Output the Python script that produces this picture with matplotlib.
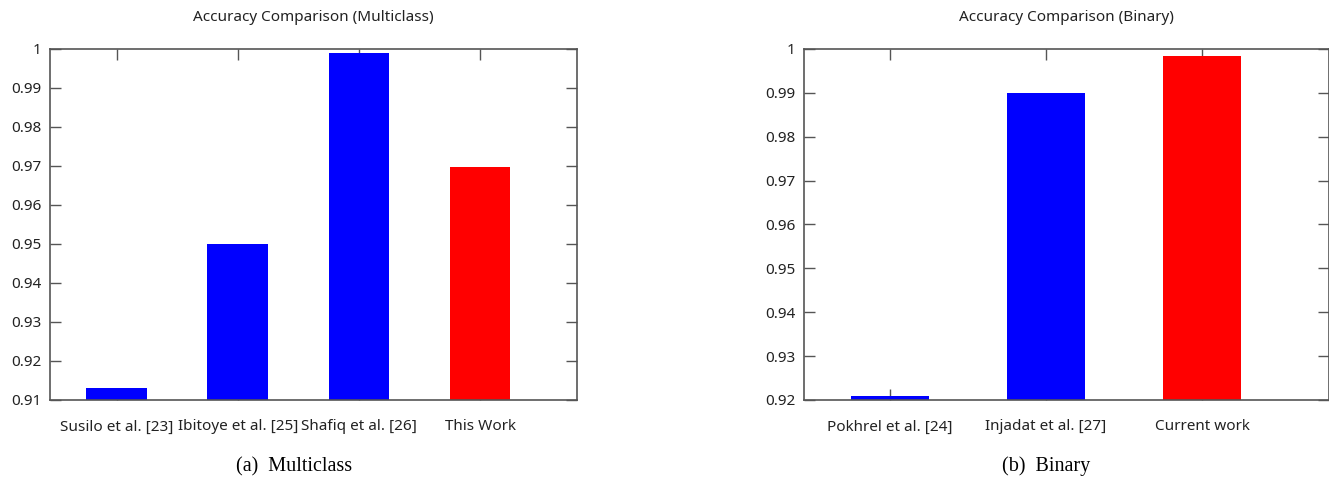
import matplotlib
matplotlib.use("Agg")
import matplotlib.pyplot as plt

multi_labels = ["Susilo et al. [23]", "Ibitoye et al. [25]", "Shafiq et al. [26]", "This Work"]
multi_values = [0.913, 0.950, 0.999, 0.9697]
multi_colors = ["#0000ff", "#0000ff", "#0000ff", "#ff0000"]

binary_labels = ["Pokhrel et al. [24]", "Injadat et al. [27]", "Current work"]
binary_values = [0.921, 0.990, 0.9985]
binary_colors = ["#0000ff", "#0000ff", "#ff0000"]

plt.rcParams["font.family"] = ["Noto Sans", "DejaVu Sans"]
AXIS_GRAY = "#555555"


def draw(ax, labels, values, colors, title, ylim, yticks, xlim):
    xs = list(range(len(labels)))
    ax.bar(xs, values, width=0.5, color=colors, bottom=0, zorder=2)
    ax.set_xlim(*xlim)
    ax.set_ylim(*ylim)
    ax.set_yticks(yticks)
    ax.set_yticklabels([f"{t:g}" for t in yticks])
    ax.set_xticks(xs)
    ax.set_xticklabels(labels)
    ax.tick_params(axis="both", direction="in", length=8, width=1, color=AXIS_GRAY,
                   labelsize=11, top=True, right=True, labelcolor="#222222")
    ax.tick_params(axis="x", pad=14)
    ax.tick_params(axis="y", pad=6)
    for s in ax.spines.values():
        s.set_color(AXIS_GRAY)
        s.set_linewidth(1.2)
    ax.set_title(title, fontsize=11, pad=20, color="#222222")


fig = plt.figure(figsize=(13.29, 4.78), dpi=100)

ax1 = fig.add_axes([0.0376, 0.1632, 0.3966, 0.7343])
draw(ax1, multi_labels, multi_values, multi_colors, "Accuracy Comparison (Multiclass)",
     (0.91, 1.0), [0.91, 0.92, 0.93, 0.94, 0.95, 0.96, 0.97, 0.98, 0.99, 1.0], (-0.55, 3.8))

ax2 = fig.add_axes([0.6047, 0.1632, 0.3953, 0.7343])
draw(ax2, binary_labels, binary_values, binary_colors, "Accuracy Comparison (Binary)",
     (0.92, 1.0), [0.92, 0.93, 0.94, 0.95, 0.96, 0.97, 0.98, 0.99, 1.0], (-0.55, 2.81))

fig.text(0.221, 0.024, "(a)  Multiclass", ha="center", va="center",
         family="Liberation Serif", fontsize=14.5)
fig.text(0.787, 0.024, "(b)  Binary", ha="center", va="center",
         family="Liberation Serif", fontsize=14.5)

fig.savefig("out.png", dpi=100)
